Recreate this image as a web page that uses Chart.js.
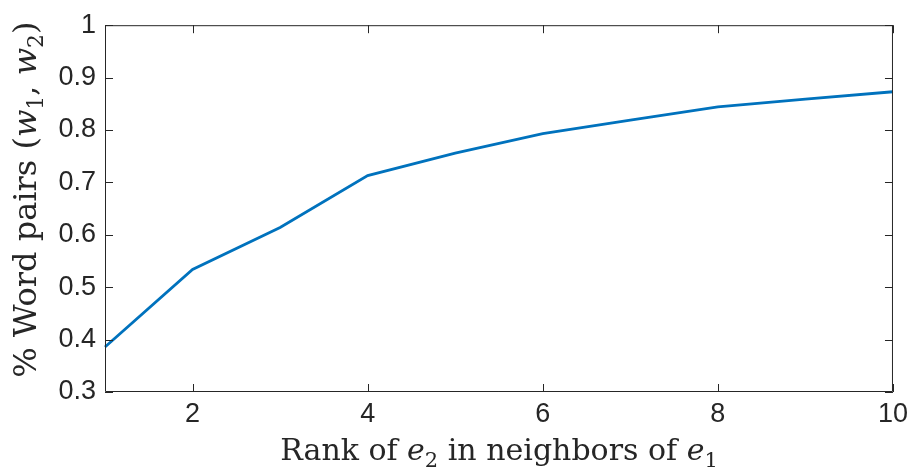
<!DOCTYPE html>
<html>
<head>
<meta charset="utf-8">
<script src="https://cdn.jsdelivr.net/npm/chart.js@4/dist/chart.umd.min.js"></script>
<style>
  html, body { margin: 0; padding: 0; background: #fff; }
  #wrap { width: 914px; height: 467px; }
</style>
</head>
<body>
<div id="wrap"><canvas id="rankChart" width="914" height="467"></canvas></div>
<script>
// data
const ranks = [1, 2, 3, 4, 5, 6, 7, 8, 9, 10];
const pairShare = [0.386, 0.534, 0.614, 0.713, 0.756, 0.793, 0.819, 0.844, 0.859, 0.873];
const xTicks = [2, 4, 6, 8, 10];
const yTicks = [0.3, 0.4, 0.5, 0.6, 0.7, 0.8, 0.9, 1];

// axis titles as (text, style) pieces: r = roman, i = math italic, s = subscript
const xTitle = [['Rank of ', 'r'], ['e', 'i'], ['2', 's'], [' in neighbors of ', 'r'], ['e', 'i'], ['1', 's']];
const yTitle = [['% Word pairs (', 'r'], ['w', 'i'], ['1', 's'], [', ', 'r'], ['w', 'i'], ['2', 's'], [')', 'r']];

const axisColor = '#262626';
const serif = '"DejaVu Serif", "Liberation Serif", serif';

const fontFor = (style, size) => {
  if (style === 'i') return `italic ${size}px ${serif}`;
  if (style === 's') return `${Math.round(size * 0.7)}px ${serif}`;
  return `${size}px ${serif}`;
};

// draws a title centred on 0,0 of the current transform, baseline at y = 0
const drawRich = (ctx, parts, size) => {
  let total = 0;
  const widths = parts.map(([t, st]) => {
    ctx.font = fontFor(st, size);
    const w = ctx.measureText(t).width;
    total += w;
    return w;
  });
  let x = -total / 2;
  parts.forEach(([t, st], i) => {
    ctx.font = fontFor(st, size);
    ctx.fillText(t, x, st === 's' ? size * 0.22 : 0);
    x += widths[i];
  });
};

const titles = {
  id: 'titles',
  afterDraw(chart) {
    const { ctx, chartArea: a } = chart;
    ctx.save();
    ctx.fillStyle = axisColor;
    ctx.textBaseline = 'alphabetic';
    ctx.textAlign = 'left';
    ctx.save();
    ctx.translate((a.left + a.right) / 2, chart.height - 7);
    drawRich(ctx, xTitle, 30);
    ctx.restore();
    ctx.save();
    ctx.translate(36, (a.top + a.bottom) / 2 - 9);
    ctx.rotate(-Math.PI / 2);
    drawRich(ctx, yTitle, 32);
    ctx.restore();
    ctx.restore();
  }
};

// matlab style box with ticks pointing inward on all four sides
const boxTicks = {
  id: 'boxTicks',
  afterDraw(chart) {
    const { ctx, chartArea: a, scales } = chart;
    const len = 8;
    ctx.save();
    ctx.strokeStyle = axisColor;
    ctx.lineWidth = 1;
    ctx.beginPath();
    ctx.rect(a.left + 0.5, a.top + 0.5, a.right - a.left - 1, a.bottom - a.top - 1);
    xTicks.forEach(v => {
      const x = Math.round(scales.x.getPixelForValue(v)) + 0.5;
      ctx.moveTo(x, a.bottom); ctx.lineTo(x, a.bottom - len);
      ctx.moveTo(x, a.top); ctx.lineTo(x, a.top + len);
    });
    yTicks.forEach(v => {
      const y = Math.round(scales.y.getPixelForValue(v)) + 0.5;
      ctx.moveTo(a.left, y); ctx.lineTo(a.left + len, y);
      ctx.moveTo(a.right, y); ctx.lineTo(a.right - len, y);
    });
    ctx.stroke();
    ctx.restore();
  }
};

const tickFont = { family: '"Liberation Sans", Arial, Helvetica, sans-serif', size: 27 };

const ctx = document.getElementById('rankChart').getContext('2d');
const chart = new Chart(ctx, {
  type: 'line',
  data: {
    datasets: [{
      data: ranks.map((r, i) => ({ x: r, y: pairShare[i] })),
      borderColor: '#0072BD',
      borderWidth: 2.8,
      pointRadius: 0,
      tension: 0,
      clip: false
    }]
  },
  options: {
    responsive: false,
    animation: false,
    layout: { padding: { left: 0, right: 20, top: 22, bottom: 0 } },
    plugins: { legend: { display: false }, tooltip: { enabled: false } },
    scales: {
      x: {
        type: 'linear',
        min: 1,
        max: 10,
        afterBuildTicks: s => { s.ticks = xTicks.map(v => ({ value: v })); },
        afterFit: s => { s.height = 75; },
        grid: { drawOnChartArea: false, drawTicks: false },
        border: { display: false },
        ticks: { color: axisColor, padding: 6, maxRotation: 0, font: tickFont }
      },
      y: {
        min: 0.3,
        max: 1,
        afterBuildTicks: s => { s.ticks = yTicks.map(v => ({ value: v })); },
        afterFit: s => { s.width = 105; },
        grid: { drawOnChartArea: false, drawTicks: false },
        border: { display: false },
        ticks: { color: axisColor, padding: 9, font: tickFont, callback: v => String(v) }
      }
    }
  },
  plugins: [boxTicks, titles]
});
</script>
</body>
</html>
